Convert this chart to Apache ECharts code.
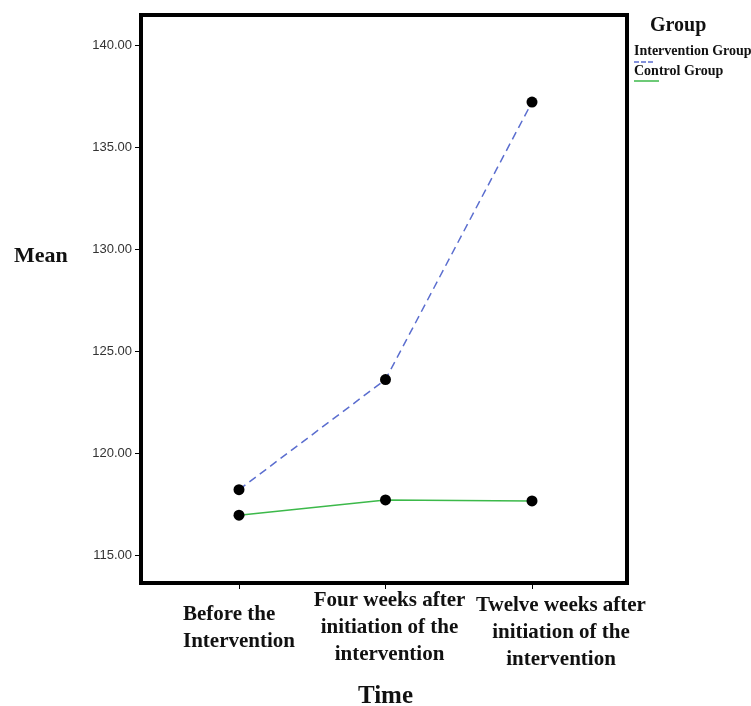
<!DOCTYPE html>
<html><head><meta charset="utf-8">
<script src="https://cdn.jsdelivr.net/npm/echarts@6/dist/echarts.min.js"></script>
<style>html,body{margin:0;padding:0;background:#fff}#c{width:751px;height:706px}</style>
</head><body><div id="c"></div>
<script>
const categories = ['Before the\nIntervention', 'Four weeks after\ninitiation of the\nintervention', 'Twelve weeks after\ninitiation of the\nintervention'];
const interventionValues = [118.2, 123.6, 137.2];
const controlValues = [116.95, 117.7, 117.65];
const yTicks = [115, 120, 125, 130, 135, 140];
const seriesNames = ['Intervention Group', 'Control Group'];

const chart = echarts.init(document.getElementById('c'));
const serif = 'Liberation Serif';
const lab = {fontFamily: serif, fontWeight: 'bold', fontSize: 21, color: '#111', lineHeight: 27};
chart.setOption({
  animation: false,
  backgroundColor: '#fff',
  grid: {left: 239, right: 219, top: 45, bottom: 151, containLabel: false, outerBoundsMode: 'none'},
  xAxis: {
    type: 'category', data: categories, boundaryGap: false, offset: 28,
    axisLine: {show: false},
    axisTick: {show: true, alignWithLabel: true, length: 6, lineStyle: {color: '#000', width: 1}},
    axisLabel: {
      interval: 0, margin: 45, verticalAlign: 'middle', lineHeight: 27,
      fontFamily: serif, fontWeight: 'bold', fontSize: 21, color: '#111',
      hideOverlap: false,
      formatter: function (v, i) {
        const lines = v.split('\n');
        const k = ['a', 'b', 'c'][i];
        return lines.map(l => '{' + k + '|' + l + '}').join('\n');
      },
      rich: {
        a: Object.assign({}, lab, {align: 'left'}),
        b: Object.assign({}, lab, {padding: [0, 0, 0, 8]}),
        c: Object.assign({}, lab, {padding: [10, 0, 0, 58]})
      }
    },
    name: 'Time', nameLocation: 'middle', nameGap: 101,
    nameTextStyle: {fontFamily: serif, fontWeight: 'bold', fontSize: 25, color: '#111'}
  },
  yAxis: {
    type: 'value', min: yTicks[0], max: yTicks[yTicks.length - 1], interval: 5, offset: 98,
    axisLine: {show: false},
    axisTick: {show: true, length: 6, lineStyle: {color: '#000', width: 1}},
    splitLine: {show: false},
    axisLabel: {margin: 9, fontFamily: 'Liberation Sans', fontSize: 13, color: '#333',
      formatter: v => v.toFixed(2)}
  },
  series: [
    {name: seriesNames[0], type: 'line', data: interventionValues, symbol: 'circle', symbolSize: 11,
      itemStyle: {color: '#000'}, lineStyle: {color: '#5b6ecf', width: 1.5, type: [8, 5]}, z: 3},
    {name: seriesNames[1], type: 'line', data: controlValues, symbol: 'circle', symbolSize: 11,
      itemStyle: {color: '#000'}, lineStyle: {color: '#3cb94a', width: 1.5}, z: 3}
  ],
  graphic: [
    {type: 'rect', shape: {x: 141, y: 15, width: 486, height: 568},
      style: {fill: 'none', stroke: '#000', lineWidth: 4}, z: 10},
    {type: 'text', left: 14, top: 245, style: {text: 'Mean', font: 'bold 22px "Liberation Serif"', fill: '#111'}},
    {type: 'text', left: 650, top: 16, style: {text: 'Group', font: 'bold 20px "Liberation Serif"', fill: '#111'}},
    {type: 'text', left: 634, top: 44, style: {text: seriesNames[0], font: 'bold 14px "Liberation Serif"', fill: '#111'}},
    {type: 'line', shape: {x1: 634, y1: 62, x2: 655, y2: 62}, style: {stroke: '#5b6ecf', lineWidth: 1.5, lineDash: [5, 2]}},
    {type: 'text', left: 634, top: 64, style: {text: seriesNames[1], font: 'bold 14px "Liberation Serif"', fill: '#111'}},
    {type: 'line', shape: {x1: 634, y1: 81, x2: 659, y2: 81}, style: {stroke: '#3cb94a', lineWidth: 1.5}}
  ]
});
</script></body></html>
